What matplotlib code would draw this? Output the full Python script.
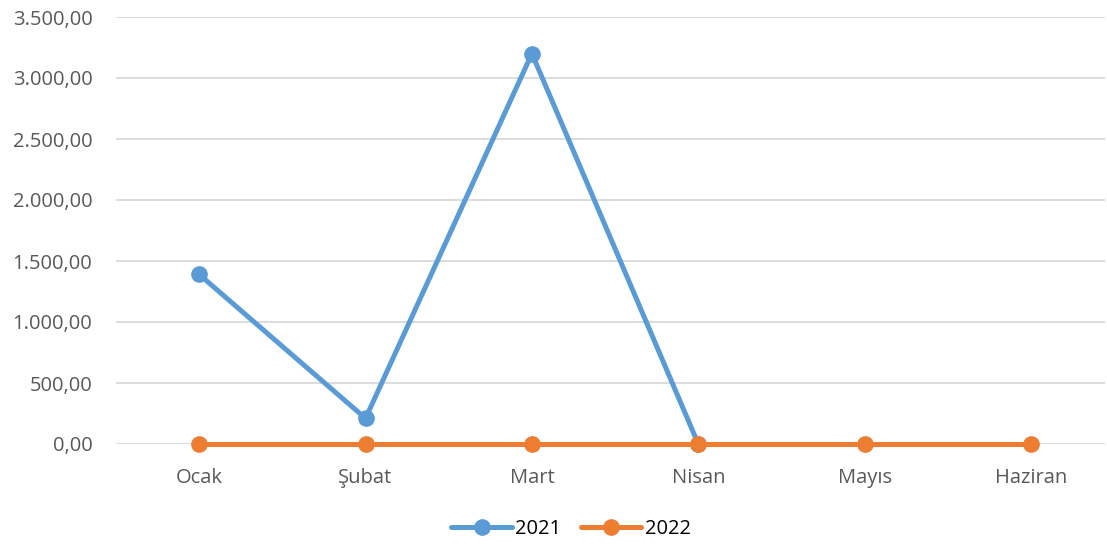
import numpy as np
import matplotlib.pyplot as plt
from matplotlib.ticker import FuncFormatter

# veriler
aylar = ["Ocak", "Şubat", "Mart", "Nisan", "Mayıs", "Haziran"]
y2021 = [1390, 210, 3200, 0, np.nan, np.nan]
y2022 = [0, 0, 0, 0, 0, 0]

plt.rcParams['font.family'] = ['Open Sans', 'DejaVu Sans']

fig = plt.figure(figsize=(11.07, 5.44), dpi=100)
ax = fig.add_axes([116 / 1107, 1 - 444 / 544, (1105 - 116) / 1107, (444 - 17) / 544])

x = np.arange(len(aylar))
ax.plot(x, y2021, color="#5B9BD5", linewidth=3.6, marker="o", markersize=11,
        label="2021", solid_capstyle="round", zorder=3, clip_on=False)
ax.plot(x, y2022, color="#ED7D31", linewidth=3.6, marker="o", markersize=11,
        label="2022", solid_capstyle="round", zorder=4, clip_on=False)

ax.set_xlim(-0.5, (1105 - 199) / 166.4)
ax.set_ylim(0, 3500)
ax.set_yticks(np.arange(0, 3501, 500))
ax.yaxis.set_major_formatter(FuncFormatter(
    lambda v, p: f"{v:,.2f}".replace(",", "X").replace(".", ",").replace("X", ".")))
ax.set_xticks(x)
ax.set_xticklabels(aylar)

ax.grid(axis="y", color="#D9D9D9", linewidth=1.3, zorder=0)
ax.set_axisbelow(True)
for s in ax.spines.values():
    s.set_visible(False)
ax.tick_params(length=0, labelsize=14.5, colors="#595959")
ax.tick_params(axis="y", pad=17)
ax.tick_params(axis="x", pad=17)

leg = ax.legend(loc="center", bbox_to_anchor=(0.46, -0.2), ncol=2, frameon=False,
                fontsize=14.5, handlelength=3.0, columnspacing=1.0, handletextpad=0.15)

fig.savefig("out.png", dpi=100)
